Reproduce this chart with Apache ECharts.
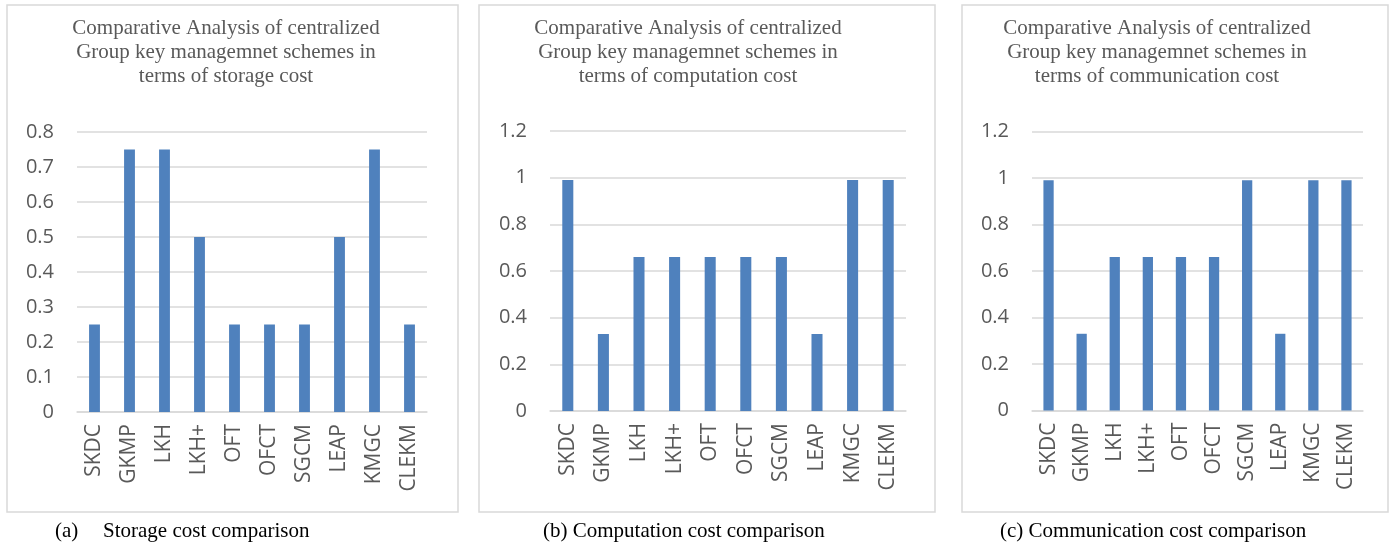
<!DOCTYPE html>
<html>
<head>
<meta charset="utf-8">
<script src="https://cdn.jsdelivr.net/npm/echarts@6/dist/echarts.min.js"></script>
<style>
	html, body { margin: 0; padding: 0; background: #fff; }
	#chart { width: 1391px; height: 547px; }
</style>
</head>
<body>
<div id="chart"></div>
<script>
const schemes = ['SKDC', 'GKMP', 'LKH', 'LKH+', 'OFT', 'OFCT', 'SGCM', 'LEAP', 'KMGC', 'CLEKM']
const storageCost = [0.25, 0.75, 0.75, 0.5, 0.25, 0.25, 0.25, 0.5, 0.75, 0.25]
const computationCost = [0.99, 0.33, 0.66, 0.66, 0.66, 0.66, 0.66, 0.33, 0.99, 0.99]
const communicationCost = [0.99, 0.33, 0.66, 0.66, 0.66, 0.66, 0.99, 0.33, 0.99, 0.99]
const titleText = [
	'Comparative Analysis of centralized\nGroup key managemnet schemes in\nterms of storage cost',
	'Comparative Analysis of centralized\nGroup key managemnet schemes in\nterms of computation cost',
	'Comparative Analysis of centralized\nGroup key managemnet schemes in\nterms of communication cost',
]

const barColor = '#4f81bd'
const gridColor = '#d9d9d9'
const labelColor = '#595959'
const sans = '"Open Sans", "Noto Sans", sans-serif'
const serif = '"Liberation Serif", "DejaVu Serif", serif'

const grids = [
	{ left: 77, width: 350, top: 132, height: 280 },
	{ left: 550, width: 356, top: 131, height: 280 },
	{ left: 1032, width: 331, top: 131.5, height: 279 },
]
const yMax = [0.8, 1.2, 1.2]
const yStep = [0.1, 0.2, 0.2]
const seriesData = [storageCost, computationCost, communicationCost]
const titleX = [221, 683, 1152]

const myChart = echarts.init(document.getElementById('chart'), null, { renderer: 'canvas' })

const options = {
	animation: false,
	title: titleText.map((t, i) => ({
		text: t,
		left: titleX[i],
		top: 11,
		textAlign: 'center',
		textStyle: {
			fontFamily: serif,
			fontWeight: 'normal',
			fontSize: 21,
			lineHeight: 24,
			color: labelColor,
			align: 'center',
		},
	})),
	grid: grids.map((g) => ({ ...g, containLabel: false })),
	xAxis: grids.map((g, i) => ({
		type: 'category',
		gridIndex: i,
		data: schemes,
		axisTick: { show: false },
		axisLine: { lineStyle: { color: gridColor, width: 1.5 } },
		axisLabel: {
			rotate: 90,
			margin: 12,
			interval: 0,
			color: labelColor,
			fontFamily: sans,
			fontSize: 21,
		},
	})),
	yAxis: grids.map((g, i) => ({
		type: 'value',
		gridIndex: i,
		min: 0,
		max: yMax[i],
		interval: yStep[i],
		axisLine: { show: false },
		axisTick: { show: false },
		splitLine: { lineStyle: { color: gridColor, width: 1.5 } },
		axisLabel: {
			margin: 23,
			color: labelColor,
			fontFamily: sans,
			fontSize: 20,
			formatter: (v) => String(Math.round(v * 10) / 10),
		},
	})),
	series: seriesData.map((d, i) => ({
		type: 'bar',
		xAxisIndex: i,
		yAxisIndex: i,
		data: d,
		barWidth: '31%',
		itemStyle: { color: barColor },
	})),
	graphic: [
		{ type: 'rect', shape: { x: 7, y: 5, width: 451, height: 507 }, style: { fill: 'none', stroke: gridColor, lineWidth: 1.5 }, silent: true },
		{ type: 'rect', shape: { x: 479, y: 5, width: 456, height: 507 }, style: { fill: 'none', stroke: gridColor, lineWidth: 1.5 }, silent: true },
		{ type: 'rect', shape: { x: 962, y: 5, width: 426, height: 507 }, style: { fill: 'none', stroke: gridColor, lineWidth: 1.5 }, silent: true },
		{ type: 'text', left: 55, top: 521, style: { text: '(a)', font: '21px ' + serif, fill: '#000' } },
		{ type: 'text', left: 103, top: 521, style: { text: 'Storage cost comparison', font: '21px ' + serif, fill: '#000' } },
		{ type: 'text', left: 543, top: 521, style: { text: '(b) Computation cost comparison', font: '21px ' + serif, fill: '#000' } },
		{ type: 'text', left: 1000, top: 521, style: { text: '(c) Communication cost comparison', font: '21px ' + serif, fill: '#000' } },
	],
}

myChart.setOption(options)
</script>
</body>
</html>
